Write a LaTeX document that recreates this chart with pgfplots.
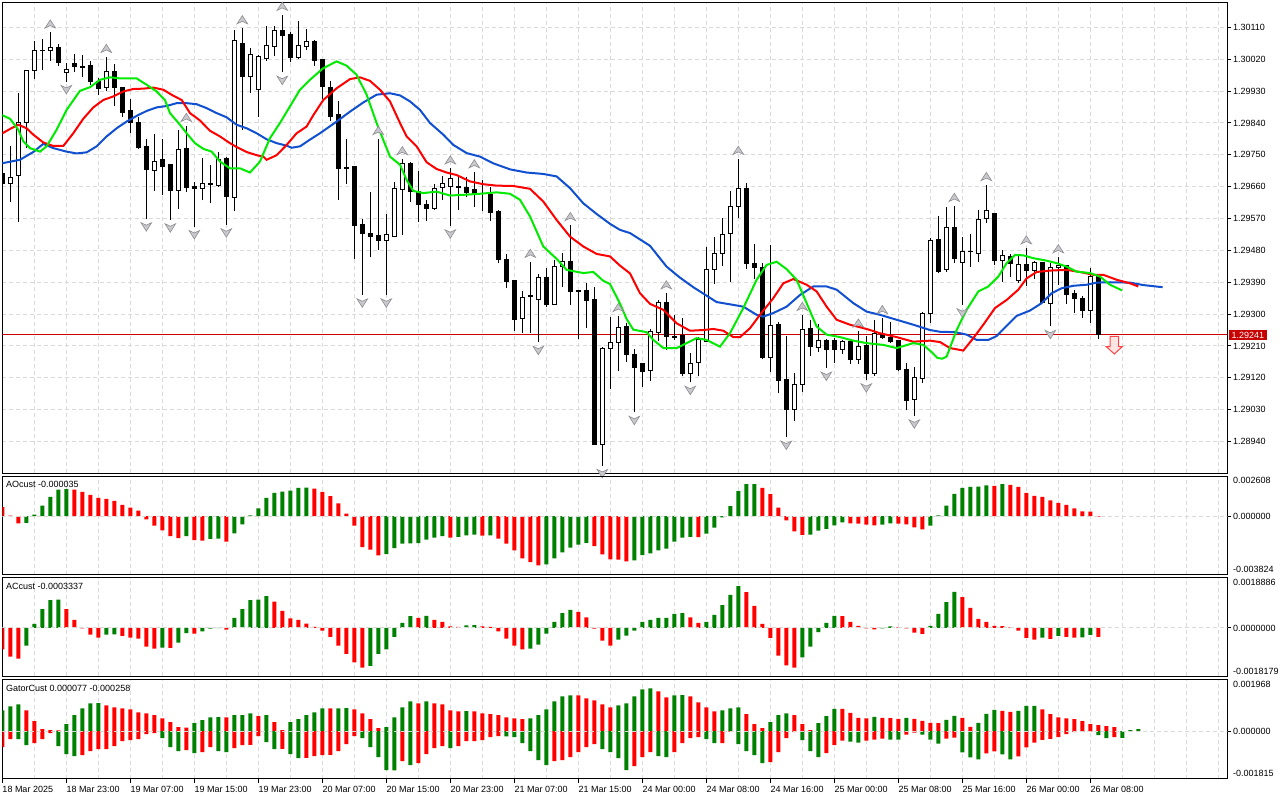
\documentclass[border=0pt]{standalone}
\usepackage{fontspec}
\setmainfont{Liberation Sans}
\usepackage{pgfplots}
\usepackage{pgfplotstable}
\pgfplotsset{compat=1.18}

\definecolor{jaw}{RGB}{16,80,208}
\definecolor{teeth}{RGB}{255,0,0}
\definecolor{lips}{RGB}{0,235,0}
\definecolor{hgreen}{RGB}{0,128,0}
\definecolor{hred}{RGB}{255,0,0}
\definecolor{gridc}{RGB}{218,218,218}
\definecolor{pricered}{RGB}{200,0,0}
\definecolor{fracfill}{RGB}{200,200,205}
\definecolor{fracdraw}{RGB}{140,140,145}
\definecolor{sellfill}{RGB}{255,228,228}
\definecolor{selldraw}{RGB}{255,70,70}

\newcommand\mtfont{\fontsize{9}{11}\selectfont}

\pgfdeclareplotmark{fup}{%
  \pgfpathmoveto{\pgfqpoint{0pt}{12.5pt}}%
  \pgfpathlineto{\pgfqpoint{5.3pt}{4.3pt}}%
  \pgfpathlineto{\pgfqpoint{0pt}{6.8pt}}%
  \pgfpathlineto{\pgfqpoint{-5.3pt}{4.3pt}}%
  \pgfpathclose\pgfusepathqfillstroke}
\pgfdeclareplotmark{fdown}{%
  \pgfpathmoveto{\pgfqpoint{0pt}{-12.3pt}}%
  \pgfpathlineto{\pgfqpoint{5.3pt}{-3.8pt}}%
  \pgfpathlineto{\pgfqpoint{0pt}{-6.3pt}}%
  \pgfpathlineto{\pgfqpoint{-5.3pt}{-3.8pt}}%
  \pgfpathclose\pgfusepathqfillstroke}
\pgfdeclareplotmark{sell}{%
  \pgfpathmoveto{\pgfqpoint{-4.2pt}{-1.5pt}}%
  \pgfpathlineto{\pgfqpoint{4.2pt}{-1.5pt}}%
  \pgfpathlineto{\pgfqpoint{4.2pt}{-11.7pt}}%
  \pgfpathlineto{\pgfqpoint{8pt}{-11.7pt}}%
  \pgfpathlineto{\pgfqpoint{0pt}{-19pt}}%
  \pgfpathlineto{\pgfqpoint{-8pt}{-11.7pt}}%
  \pgfpathlineto{\pgfqpoint{-4.2pt}{-11.7pt}}%
  \pgfpathclose\pgfusepathqfillstroke}

% k open high low close bullish fractalUp fractalDown
\pgfplotstableread{
k o h l c b fu fd
0 1.29696 1.29703 1.29665 1.29670 0 0 0
1 1.29670 1.29776 1.29618 1.29687 1 0 0
2 1.29692 1.29924 1.29559 1.29842 1 0 0
3 1.29842 1.29990 1.29769 1.29987 1 0 0
4 1.29987 1.30072 1.29965 1.30046 1 0 0
5 1.30046 1.30078 1.29990 1.30045 0 0 0
6 1.30046 1.30096 1.30016 1.30054 1 1 0
7 1.30054 1.30064 1.30000 1.30012 0 0 0
8 1.29984 1.30009 1.29957 1.29992 1 0 1
9 1.30009 1.30035 1.29983 1.30000 0 0 0
10 1.30001 1.30033 1.29971 1.29997 0 0 0
11 1.30002 1.30016 1.29948 1.29957 0 0 0
12 1.29957 1.29967 1.29918 1.29937 0 0 0
13 1.29940 1.30027 1.29929 1.29985 1 1 0
14 1.29985 1.30007 1.29887 1.29940 0 0 0
15 1.29940 1.29941 1.29856 1.29870 0 0 0
16 1.29874 1.29907 1.29811 1.29840 0 0 0
17 1.29840 1.29858 1.29767 1.29771 0 0 0
18 1.29773 1.29794 1.29569 1.29709 0 0 1
19 1.29707 1.29809 1.29649 1.29732 1 0 0
20 1.29736 1.29795 1.29637 1.29717 0 0 0
21 1.29722 1.29722 1.29566 1.29649 0 0 1
22 1.29649 1.29821 1.29598 1.29766 1 0 0
23 1.29767 1.29832 1.29644 1.29658 0 1 0
24 1.29661 1.29672 1.29547 1.29656 0 0 1
25 1.29656 1.29741 1.29621 1.29668 1 0 0
26 1.29666 1.29720 1.29613 1.29668 1 0 0
27 1.29664 1.29759 1.29660 1.29736 1 0 0
28 1.29739 1.29745 1.29552 1.29632 0 0 1
29 1.29630 1.30103 1.29590 1.30073 1 0 0
30 1.30064 1.30108 1.29821 1.29971 0 1 0
31 1.29971 1.30051 1.29926 1.30033 1 0 0
32 1.29936 1.30033 1.29858 1.30028 1 0 0
33 1.30023 1.30115 1.30016 1.30058 1 0 0
34 1.30057 1.30113 1.30028 1.30100 1 0 0
35 1.30100 1.30146 1.29983 1.30088 0 1 1
36 1.30089 1.30097 1.30011 1.30026 0 0 0
37 1.30026 1.30129 1.30022 1.30058 1 0 0
38 1.30057 1.30105 1.30045 1.30071 1 0 0
39 1.30071 1.30075 1.30002 1.30017 0 0 0
40 1.30018 1.30019 1.29907 1.29943 0 0 0
41 1.29941 1.29959 1.29847 1.29858 0 0 0
42 1.29863 1.29903 1.29623 1.29710 0 0 0
43 1.29714 1.29795 1.29668 1.29712 0 0 0
44 1.29717 1.29717 1.29457 1.29550 0 0 0
45 1.29552 1.29569 1.29354 1.29527 0 0 1
46 1.29529 1.29644 1.29460 1.29519 0 0 0
47 1.29521 1.29795 1.29480 1.29508 0 1 0
48 1.29508 1.29583 1.29354 1.29526 1 0 1
49 1.29519 1.29672 1.29517 1.29654 1 0 0
50 1.29653 1.29738 1.29524 1.29726 1 1 0
51 1.29726 1.29729 1.29618 1.29646 0 0 0
52 1.29646 1.29703 1.29559 1.29610 0 0 0
53 1.29611 1.29623 1.29562 1.29598 0 0 0
54 1.29597 1.29667 1.29595 1.29656 1 0 0
55 1.29658 1.29689 1.29623 1.29668 1 0 0
56 1.29660 1.29712 1.29549 1.29684 1 1 1
57 1.29659 1.29689 1.29593 1.29660 1 0 0
58 1.29659 1.29686 1.29630 1.29644 0 0 0
59 1.29651 1.29701 1.29604 1.29642 0 1 0
60 1.29642 1.29679 1.29590 1.29641 0 0 0
61 1.29637 1.29660 1.29564 1.29588 0 0 0
62 1.29590 1.29595 1.29444 1.29455 0 0 0
63 1.29455 1.29470 1.29373 1.29392 0 0 0
64 1.29394 1.29394 1.29253 1.29286 0 0 0
65 1.29288 1.29366 1.29246 1.29348 1 0 0
66 1.29351 1.29448 1.29248 1.29352 1 1 0
67 1.29342 1.29414 1.29220 1.29402 1 0 1
68 1.29402 1.29430 1.29320 1.29326 0 0 0
69 1.29327 1.29453 1.29325 1.29434 1 0 0
70 1.29434 1.29472 1.29376 1.29449 1 0 0
71 1.29450 1.29552 1.29326 1.29364 0 1 0
72 1.29366 1.29369 1.29229 1.29364 0 0 0
73 1.29366 1.29387 1.29260 1.29338 0 0 0
74 1.29340 1.29376 1.28930 1.28932 0 0 0
75 1.28932 1.29206 1.28872 1.29204 1 0 1
76 1.29204 1.29293 1.29088 1.29221 1 0 0
77 1.29221 1.29295 1.29138 1.29262 1 1 0
78 1.29264 1.29276 1.29166 1.29187 0 0 0
79 1.29185 1.29202 1.29022 1.29149 0 0 1
80 1.29161 1.29163 1.29095 1.29138 0 0 0
81 1.29140 1.29258 1.29112 1.29251 1 0 0
82 1.29249 1.29340 1.29225 1.29334 1 0 0
83 1.29334 1.29359 1.29199 1.29237 0 1 0
84 1.29237 1.29298 1.29227 1.29235 0 0 0
85 1.29240 1.29289 1.29124 1.29133 0 0 0
86 1.29133 1.29189 1.29107 1.29161 1 0 1
87 1.29164 1.29235 1.29124 1.29229 1 0 0
88 1.29222 1.29489 1.29220 1.29427 1 0 0
89 1.29427 1.29517 1.29385 1.29472 1 0 0
90 1.29472 1.29571 1.29437 1.29526 1 0 0
91 1.29529 1.29648 1.29392 1.29605 1 0 0
92 1.29605 1.29739 1.29572 1.29656 1 1 0
93 1.29656 1.29670 1.29427 1.29442 0 0 0
94 1.29442 1.29498 1.29399 1.29433 0 0 0
95 1.29433 1.29444 1.29172 1.29178 0 0 0
96 1.29178 1.29496 1.29135 1.29267 1 0 0
97 1.29270 1.29277 1.29076 1.29112 0 0 0
98 1.29114 1.29238 1.28952 1.29031 0 0 1
99 1.29031 1.29135 1.28999 1.29102 1 0 0
100 1.29102 1.29298 1.29081 1.29257 1 1 0
101 1.29258 1.29282 1.29182 1.29208 0 0 0
102 1.29206 1.29272 1.29194 1.29226 1 0 0
103 1.29226 1.29229 1.29147 1.29201 0 0 1
104 1.29226 1.29232 1.29163 1.29201 0 0 0
105 1.29201 1.29227 1.29188 1.29223 1 0 0
106 1.29222 1.29224 1.29159 1.29171 0 0 0
107 1.29171 1.29251 1.29159 1.29208 1 1 0
108 1.29210 1.29238 1.29114 1.29133 0 0 1
109 1.29133 1.29284 1.29124 1.29244 1 0 0
110 1.29242 1.29289 1.29231 1.29233 0 1 0
111 1.29235 1.29279 1.29218 1.29222 0 0 0
112 1.29225 1.29227 1.29138 1.29144 0 0 0
113 1.29144 1.29161 1.29028 1.29056 0 0 0
114 1.29058 1.29150 1.29012 1.29121 1 0 1
115 1.29119 1.29307 1.29105 1.29303 1 0 0
116 1.29303 1.29515 1.29276 1.29507 1 0 0
117 1.29510 1.29578 1.29415 1.29419 0 0 0
118 1.29427 1.29602 1.29419 1.29546 1 0 0
119 1.29546 1.29606 1.29444 1.29458 0 1 0
120 1.29447 1.29517 1.29326 1.29477 1 0 1
121 1.29477 1.29526 1.29434 1.29478 1 0 0
122 1.29472 1.29595 1.29448 1.29568 1 0 0
123 1.29571 1.29665 1.29557 1.29593 1 1 0
124 1.29585 1.29585 1.29439 1.29451 0 0 0
125 1.29451 1.29480 1.29392 1.29465 1 0 0
126 1.29464 1.29470 1.29406 1.29444 0 0 0
127 1.29395 1.29467 1.29389 1.29441 1 0 0
128 1.29441 1.29486 1.29378 1.29423 0 1 0
129 1.29423 1.29450 1.29399 1.29446 1 0 0
130 1.29447 1.29448 1.29331 1.29333 0 0 0
131 1.29331 1.29444 1.29265 1.29432 1 0 1
132 1.29432 1.29461 1.29383 1.29438 1 1 0
133 1.29438 1.29440 1.29328 1.29354 0 0 0
134 1.29357 1.29369 1.29304 1.29343 0 0 0
135 1.29345 1.29350 1.29288 1.29310 0 0 0
136 1.29310 1.29430 1.29276 1.29406 1 0 0
137 1.29408 1.29408 1.29229 1.29241 0 0 0
}\candles

\pgfplotstableread{
x y
-0.29 1.29725
2.21 1.29736
3.875 1.29758
5.125 1.29781
6.375 1.29769
8.04 1.29759
9.29 1.29754
10.54 1.29757
11.79 1.29774
13.04 1.29802
14.29 1.29825
15.54 1.29844
16.79 1.29860
18.04 1.29874
19.29 1.29884
20.54 1.29888
21.79 1.29896
23.04 1.29896
24.29 1.29893
25.54 1.29882
26.79 1.29868
28.04 1.29856
29.29 1.29835
30.54 1.29825
31.79 1.29811
33.04 1.29794
34.29 1.29783
35.54 1.29776
36.17 1.29770
37.21 1.29774
38.46 1.29793
39.71 1.29811
41.79 1.29844
43.46 1.29872
45.125 1.29898
46.79 1.29920
48.46 1.29924
49.71 1.29918
50.96 1.29901
52.21 1.29877
53.46 1.29840
55.125 1.29807
56.375 1.29778
58.04 1.29755
59.71 1.29745
61.375 1.29726
63.46 1.29709
65.54 1.29700
67.625 1.29696
69.29 1.29689
70.96 1.29656
72.625 1.29613
74.29 1.29583
75.96 1.29555
77.21 1.29538
78.46 1.29529
80.96 1.29493
83.04 1.29434
84.71 1.29403
86.375 1.29376
88.04 1.29352
89.29 1.29334
91.375 1.29326
92.625 1.29321
94.29 1.29298
95.125 1.29293
96.375 1.29303
98.04 1.29321
99.71 1.29354
101.375 1.29378
103.04 1.29378
104.29 1.29369
106.375 1.29331
108.04 1.29307
109.71 1.29298
111.79 1.29284
113.875 1.29270
115.96 1.29255
117.21 1.29250
119.08 1.29249
120.54 1.29242
121.79 1.29227
123.25 1.29227
124.29 1.29238
125.54 1.29267
126.79 1.29295
128.46 1.29310
129.92 1.29331
131.17 1.29359
132.42 1.29373
133.875 1.29380
135.54 1.29383
136.79 1.29389
138.46 1.29390
140.96 1.29389
142.625 1.29382
145.04 1.29376
}\jawtab

\pgfplotstableread{
x y
-0.29 1.29807
0.96 1.29823
2 1.29835
3.04 1.29825
3.875 1.29807
5.125 1.29785
6.375 1.29775
7.625 1.29775
8.875 1.29811
10.125 1.29852
11.375 1.29884
12.625 1.29905
13.875 1.29915
15.125 1.29929
16.375 1.29936
17.625 1.29937
18.875 1.29940
20.125 1.29934
21.375 1.29917
22.42 1.29905
23.46 1.29868
24.71 1.29847
25.96 1.29818
27.21 1.29802
28.46 1.29783
29.29 1.29772
30.54 1.29758
31.79 1.29749
32.625 1.29745
33.04 1.29736
34.29 1.29749
35.54 1.29778
36.79 1.29811
38.04 1.29830
38.875 1.29862
40.125 1.29905
41.79 1.29938
43.46 1.29964
44.71 1.29969
45.96 1.29959
47.21 1.29934
48.46 1.29901
49.71 1.29840
50.54 1.29802
51.79 1.29774
53.04 1.29729
54.29 1.29710
55.54 1.29700
56.79 1.29693
58.46 1.29675
60.125 1.29667
61.79 1.29663
63.875 1.29662
65.96 1.29654
67.625 1.29618
69.29 1.29566
70.96 1.29519
72.625 1.29491
74.29 1.29470
75.96 1.29463
77.21 1.29437
78.46 1.29415
79.71 1.29359
80.96 1.29329
82.625 1.29312
84.29 1.29274
85.96 1.29253
87.625 1.29255
88.875 1.29258
90.125 1.29253
91.375 1.29235
92.21 1.29235
93.46 1.29260
94.71 1.29298
96.375 1.29345
97.625 1.29387
98.875 1.29399
100.54 1.29383
101.79 1.29364
103.04 1.29321
104.29 1.29284
105.96 1.29270
108.04 1.29258
109.71 1.29246
111.79 1.29235
113.875 1.29222
115.96 1.29225
117.21 1.29221
118.46 1.29204
120.125 1.29197
121.375 1.29232
122.625 1.29270
124.08 1.29317
125.54 1.29340
127 1.29369
128.04 1.29401
129.29 1.29419
130.96 1.29423
133.04 1.29425
134.71 1.29419
136.375 1.29411
137.625 1.29411
139.29 1.29397
140.96 1.29387
142 1.29378
}\teethtab

\pgfplotstableread{
x y
-0.29 1.29865
0.96 1.29852
2 1.29821
2.63 1.29788
3.46 1.29769
4.71 1.29759
5.54 1.29774
6.79 1.29821
8.04 1.29877
9.71 1.29931
10.96 1.29941
12.21 1.29962
13.46 1.29969
14.71 1.29966
16.79 1.29966
18.04 1.29948
19.29 1.29929
20.33 1.29905
20.96 1.29868
22.21 1.29835
23.04 1.29811
24.08 1.29783
25.125 1.29767
26.17 1.29759
27.21 1.29731
28.46 1.29712
29.71 1.29712
30.96 1.29700
32.21 1.29731
33.46 1.29797
34.71 1.29840
35.96 1.29887
37.21 1.29934
38.46 1.29962
40.125 1.29995
41.79 1.30014
43.04 1.30002
44.29 1.29976
45.54 1.29920
46.79 1.29840
47.625 1.29792
48.46 1.29745
49.71 1.29722
50.54 1.29679
51.375 1.29648
52.625 1.29642
54.29 1.29646
55.96 1.29635
57.625 1.29637
59.71 1.29640
61.79 1.29644
63.46 1.29640
64.71 1.29623
65.96 1.29576
67.625 1.29491
69.29 1.29456
70.54 1.29425
72.625 1.29416
73.875 1.29419
75.125 1.29394
75.96 1.29385
77.21 1.29330
78.04 1.29286
78.875 1.29256
80.54 1.29249
81.375 1.29227
82.625 1.29204
84.29 1.29204
85.54 1.29218
86.79 1.29232
88.04 1.29227
89.71 1.29208
90.96 1.29246
92.625 1.29317
94.29 1.29397
95.54 1.29439
96.79 1.29448
98.04 1.29427
99.29 1.29397
100.54 1.29331
101.79 1.29265
103.04 1.29242
104.71 1.29235
106.375 1.29225
108.04 1.29218
110.125 1.29213
111.79 1.29204
113.875 1.29218
115.125 1.29213
116.2 1.29192
116.9 1.29176
117.5 1.29174
118.04 1.29180
119.29 1.29255
120.54 1.29312
122 1.29364
123.25 1.29378
124.5 1.29406
125.54 1.29444
126.58 1.29467
127.625 1.29466
128.875 1.29458
130.54 1.29451
131.79 1.29444
133.04 1.29434
134.29 1.29420
135.96 1.29416
137.21 1.29406
138.46 1.29383
139.96 1.29367
}\lipstab

% AO: k value colour(1=green,0=red)
\pgfplotstableread{
k v c
0 0.000583 0
1 0.00002 0
2 -0.000475 0
3 -0.000454 1
4 0.000086 1
5 0.00067 1
6 0.001253 1
7 0.001728 1
8 0.00175 1
9 0.00172 0
10 0.001577 0
11 0.001382 0
12 0.001188 0
13 0.001123 0
14 0.000994 0
15 0.000734 0
16 0.00054 0
17 0.000346 0
18 -0.000216 0
19 -0.000626 0
20 -0.000929 0
21 -0.001318 0
22 -0.001447 0
23 -0.001318 1
24 -0.001577 0
25 -0.001598 0
26 -0.00149 1
27 -0.001469 1
28 -0.001663 0
29 -0.001123 1
30 -0.00054 1
31 0.000043 1
32 0.000497 1
33 0.001188 1
34 0.001512 1
35 0.001598 1
36 0.001663 1
37 0.001836 1
38 0.001847 1
39 0.001793 0
40 0.001577 0
41 0.001296 0
42 0.000821 0
43 0.000151 0
44 -0.000626 0
45 -0.00203 0
46 -0.002182 0
47 -0.00257 0
48 -0.002484 1
49 -0.002095 1
50 -0.0018 1
51 -0.00178 1
52 -0.00176 1
53 -0.001534 1
54 -0.001404 1
55 -0.001318 1
56 -0.001404 0
57 -0.001361 1
58 -0.001253 1
59 -0.00121 1
60 -0.001274 0
61 -0.001263 1
62 -0.001469 0
63 -0.001793 0
64 -0.002246 0
65 -0.002765 0
66 -0.003002 0
67 -0.003218 0
68 -0.003154 1
69 -0.002765 1
70 -0.002376 1
71 -0.002052 1
72 -0.001858 1
73 -0.00175 1
74 -0.001966 0
75 -0.002506 0
76 -0.00283 0
77 -0.00284 0
78 -0.002959 0
79 -0.002894 1
80 -0.002549 1
81 -0.002441 1
82 -0.002246 1
83 -0.002117 1
84 -0.001663 1
85 -0.001404 1
86 -0.001361 1
87 -0.001382 0
88 -0.001145 1
89 -0.000756 1
90 -0.000086 1
91 0.000648 1
92 0.00162 1
93 0.002074 1
94 0.002084 1
95 0.001836 0
96 0.001426 0
97 0.00054 0
98 -0.000281 0
99 -0.000994 0
100 -0.001231 0
101 -0.00121 1
102 -0.00095 1
103 -0.000842 1
104 -0.000605 1
105 -0.00041 1
106 -0.000475 0
107 -0.000497 0
108 -0.000562 0
109 -0.000605 0
110 -0.000562 1
111 -0.000475 1
112 -0.000497 0
113 -0.00054 0
114 -0.000734 0
115 -0.000864 0
116 -0.000626 1
117 0.000043 1
118 0.00067 1
119 0.001447 1
120 0.001836 1
121 0.0019 1
122 0.00191 1
123 0.00199 1
124 0.00197 0
125 0.00208 1
126 0.00203 0
127 0.0019 0
128 0.001512 0
129 0.001318 0
130 0.001253 0
131 0.001015 0
132 0.000864 0
133 0.000734 0
134 0.000497 0
135 0.000302 0
136 0.000281 0
137 -0.000035 0
}\ao

\pgfplotstableread{
k v c
0 -0.00081 0
1 -0.001075 0
2 -0.00115 0
3 -0.00066 1
4 0.00015 1
5 0.000712 1
6 0.00105 1
7 0.00106 1
8 0.000712 0
9 0.0003 0
10 -0.00002 0
11 -0.00025 0
12 -0.00036 0
13 -0.00025 1
14 -0.00024 1
15 -0.0003 0
16 -0.00036 0
17 -0.0004 0
18 -0.0007 0
19 -0.000775 0
20 -0.00074 1
21 -0.00075 0
22 -0.00055 1
23 -0.00019 1
24 -0.00021 0
25 -0.000125 1
26 -0.00003 1
27 -0.00001 1
28 -0.00006 0
29 0.000375 1
30 0.00071 1
31 0.00105 1
32 0.00106 1
33 0.0012 1
34 0.00099 0
35 0.00064 0
36 0.00036 0
37 0.0003 0
38 0.00016 0
39 0.00004 0
40 -0.0001 0
41 -0.00034 0
42 -0.00066 0
43 -0.000975 0
44 -0.00129 0
45 -0.00149 0
46 -0.001425 1
47 -0.000975 1
48 -0.00081 1
49 -0.00034 1
50 0.00019 1
51 0.00044 1
52 0.000375 0
53 0.00045 1
54 0.0003 0
55 0.000225 0
56 0.0000625 0
57 0.0000375 0
58 0.0001 1
59 0.000106 1
60 0.0000625 0
61 0.0000375 0
62 -0.000125 0
63 -0.0004 0
64 -0.00066 0
65 -0.00081 0
66 -0.000775 1
67 -0.000625 1
68 -0.00021 1
69 0.000225 1
70 0.00056 1
71 0.000675 1
72 0.0006 0
73 0.0004 0
74 -0.000025 0
75 -0.000475 0
76 -0.00066 0
77 -0.00044 1
78 -0.00029 1
79 -0.0001 1
80 0.000225 1
81 0.0003 1
82 0.000375 1
83 0.00038 1
84 0.000525 1
85 0.00056 1
86 0.0004 0
87 0.00019 0
88 0.000225 1
89 0.00049 1
90 0.00086 1
91 0.00124 1
92 0.001575 1
93 0.00135 0
94 0.000825 0
95 0.00015 0
96 -0.000375 0
97 -0.00104 0
98 -0.00141 0
99 -0.00149 0
100 -0.00111 1
101 -0.0007 1
102 -0.00016 1
103 0.00019 1
104 0.00045 1
105 0.00044 0
106 0.000225 0
107 0.000075 0
108 -0.0000125 0
109 -0.00005 0
110 -0.0000125 1
111 0.0000625 1
112 0.000025 0
113 -0.0000125 0
114 -0.000175 0
115 -0.000225 0
116 0.000075 1
117 0.000525 1
118 0.000975 1
119 0.00136 1
120 0.00116 0
121 0.00075 0
122 0.00034 0
123 0.000225 0
124 0.000075 0
125 0.00007 0
126 0.000025 0
127 -0.0001 0
128 -0.000375 0
129 -0.00044 0
130 -0.00036 1
131 -0.00041 0
132 -0.0003 1
133 -0.00034 0
134 -0.00036 0
135 -0.00035 1
136 -0.00026 1
137 -0.000334 0
}\ac

% Gator: k upper uppercolour lower lowercolour
\pgfplotstableread{
k u uc l lc
0 0.0008 1 -0.00061 0
1 0.000953 1 -0.000305 0
2 0.001029 1 -0.000305 1
3 0.0008 0 -0.000533 1
4 0.000381 0 -0.000457 0
5 0.000076 0 -0.000305 0
6 0.000038 0 -0.000076 0
7 0.000036 0 -0.000572 1
8 0.000267 1 -0.000876 1
9 0.00061 1 -0.000953 1
10 0.000876 1 -0.000914 0
11 0.001067 1 -0.000762 0
12 0.001073 1 -0.000686 0
13 0.000991 0 -0.000684 0
14 0.000914 0 -0.000572 0
15 0.000876 0 -0.000381 0
16 0.000838 0 -0.000343 0
17 0.000724 0 -0.000305 0
18 0.000686 0 -0.000114 0
19 0.00061 0 -0.000076 0
20 0.000495 0 -0.000267 1
21 0.000343 0 -0.00061 1
22 0.000152 0 -0.000762 1
23 0.00014 0 -0.000724 0
24 0.000305 1 -0.000838 1
25 0.000419 1 -0.0008 0
26 0.000533 1 -0.00061 0
27 0.00054 1 -0.000762 1
28 0.000533 0 -0.0008 1
29 0.00061 1 -0.000648 0
30 0.000616 1 -0.000533 0
31 0.000686 1 -0.000527 0
32 0.000572 0 -0.000191 0
33 0.00061 1 -0.000419 1
34 0.000343 0 -0.000686 1
35 0.000038 0 -0.000679 0
36 0.000343 1 -0.000876 1
37 0.000457 1 -0.001029 1
38 0.00061 1 -0.001022 0
39 0.000724 1 -0.000953 0
40 0.000876 1 -0.000914 0
41 0.00087 0 -0.000908 0
42 0.000876 1 -0.000762 0
43 0.000883 1 -0.000495 0
44 0.000838 0 -0.000191 0
45 0.000686 0 -0.000267 1
46 0.000457 0 -0.00061 1
47 0.000114 0 -0.000991 1
48 0.000152 1 -0.001486 1
49 0.000533 1 -0.001492 1
50 0.000914 1 -0.001143 0
51 0.001143 1 -0.001295 1
52 0.001067 0 -0.001219 0
53 0.001143 1 -0.000876 0
54 0.001067 0 -0.000648 0
55 0.001029 0 -0.000572 0
56 0.0008 0 -0.000648 1
57 0.000762 0 -0.000572 0
58 0.000768 1 -0.000381 0
59 0.000762 0 -0.000375 0
60 0.000686 0 -0.000343 0
61 0.000648 0 -0.000229 0
62 0.00061 0 -0.000191 0
63 0.000533 0 -0.000197 1
64 0.000495 0 -0.000229 1
65 0.000457 0 -0.000457 1
66 0.000495 1 -0.000762 1
67 0.00061 1 -0.001105 1
68 0.000838 1 -0.001295 1
69 0.001143 1 -0.001143 0
70 0.001334 1 -0.001105 0
71 0.001372 1 -0.000991 0
72 0.001365 0 -0.0008 0
73 0.001257 0 -0.00061 0
74 0.001181 0 -0.000495 0
75 0.001029 0 -0.000686 1
76 0.000914 0 -0.0008 1
77 0.000991 1 -0.001029 1
78 0.001067 1 -0.001486 1
79 0.001334 1 -0.001334 0
80 0.0016 1 -0.000991 0
81 0.001638 1 -0.0008 0
82 0.001524 0 -0.000953 1
83 0.001295 0 -0.000991 1
84 0.001372 1 -0.0008 0
85 0.001378 1 -0.000457 0
86 0.001334 0 -0.000267 0
87 0.001105 0 -0.000229 0
88 0.000914 0 -0.000305 1
89 0.000762 0 -0.000457 1
90 0.0008 1 -0.000451 0
91 0.000876 1 -0.000013 0
92 0.000914 1 -0.000495 1
93 0.000648 0 -0.000762 1
94 0.000267 0 -0.000914 1
95 0.000114 0 -0.001219 1
96 0.000343 1 -0.001181 0
97 0.00061 1 -0.0008 0
98 0.000686 1 -0.000267 0
99 0.00061 0 -0.000038 0
100 0.000267 0 -0.000343 1
101 0.000038 0 -0.000762 1
102 0.000305 1 -0.000991 1
103 0.000572 1 -0.000838 0
104 0.000857 1 -0.000533 0
105 0.000851 0 -0.000356 0
106 0.000699 0 -0.000394 1
107 0.000508 0 -0.000432 1
108 0.000495 0 -0.000356 0
109 0.000546 1 -0.000318 0
110 0.000508 0 -0.000279 0
111 0.000502 0 -0.000318 1
112 0.00047 0 -0.000324 1
113 0.000508 1 -0.000127 0
114 0.00047 0 -0.000051 0
115 0.000394 0 -0.000127 1
116 0.000318 0 -0.000318 1
117 0.000311 0 -0.00047 1
118 0.000432 1 -0.000279 0
119 0.000584 1 -0.000241 0
120 0.000508 0 -0.000813 1
121 0.000165 0 -0.001003 1
122 0.000318 1 -0.00108 1
123 0.00066 1 -0.000851 0
124 0.000813 1 -0.000775 0
125 0.000775 0 -0.000889 1
126 0.000737 0 -0.00108 1
127 0.000775 1 -0.000965 0
128 0.000965 1 -0.000622 0
129 0.000972 1 -0.000432 0
130 0.000838 0 -0.00033 0
131 0.000648 0 -0.000292 0
132 0.000533 0 -0.000229 0
133 0.000495 0 -0.000114 0
134 0.000457 0 -0.000038 0
135 0.000381 0 -0.000025 0
136 0.000267 0 -0.000006 0
137 0.000229 0 -0.000152 1
138 0.000191 0 -0.000267 1
139 0.000152 0 -0.000229 0
140 0 0 -0.000258 1
141 0.000038 1 0 0
142 0.000077 1 0 0
}\gator

\pgfplotsset{
  mtbase/.style={
    scale only axis,
    width=1225pt,
    xmin=0, xmax=153.125,
    scaled ticks=false,
    axis line style={line width=1pt,black},
    tick align=outside,
    major tick length=4pt,
    minor tick length=0pt,
    tick style={black,line width=1pt},
    xtick={0,8,16,24,32,40,48,56,64,72,80,88,96,104,112,120,128,136},
    minor xtick={4,12,20,28,36,44,52,60,68,76,84,92,100,108,116,124,132,140,144,148,152},
    xmajorgrids=true, xminorgrids=true,
    major grid style={gridc,line width=1pt,dash pattern=on 4pt off 3pt},
    minor grid style={gridc,line width=1pt,dash pattern=on 4pt off 3pt},
    xtick pos=left,
    ytick pos=right,
    yticklabel pos=right,
    ticklabel style={font=\mtfont},
    yticklabel style={anchor=west,inner sep=0pt,xshift=1.5pt},
    clip=true,
    clip mode=individual,
  },
  mtupper/.style={xticklabels={}, xtick style={draw=none}},
  histo/.style={ybar, bar width=4pt, bar shift=0pt, draw=none, forget plot},
  zeroline/.style={gridc,line width=1pt,dash pattern=on 4pt off 3pt, forget plot},
}

\begin{document}
\begin{tikzpicture}
\fill[white] (0pt,0pt) rectangle (1280pt,-800pt);

% ---------------- main price panel ----------------
\begin{axis}[mtbase, mtupper,
  at={(2.3pt,-473pt)}, anchor=south west, height=470.7pt,
  ymin=1.28851, ymax=1.30181,
  ytick={1.2894,1.2903,1.2912,1.2921,1.2930,1.2939,1.2948,1.2957,1.2966,1.2975,1.2984,1.2993,1.3002,1.3011},
  yticklabels={1.28940,1.29030,1.29120,1.29210,1.29300,1.29390,1.29480,1.29570,1.29660,1.29750,1.29840,1.29930,1.30020,1.30110},
  ymajorgrids=true,
  extra y ticks={1.29241}, extra y tick labels={1.29241},
  extra y tick style={grid=none, major tick length=0pt,
     yticklabel style={fill=pricered,text=white,inner xsep=3pt,inner ysep=2pt,xshift=-0.5pt}},
]
\addplot[pricered, line width=1pt, forget plot] coordinates {(0,1.29241) (154,1.29241)};
% wicks
\addplot[draw=none, mark=none, forget plot,
  error bars/.cd, y dir=plus, y explicit, error mark=none,
  error bar style={draw=black,line width=1pt,solid}]
  table[x=k, y=l, y error expr=\thisrow{h}-\thisrow{l}] {\candles};
% bodies
\pgfplotstablegetrowsof{\candles}
\pgfmathtruncatemacro{\nrows}{\pgfplotsretval-1}
\pgfplotsforeachungrouped \i in {0,...,\nrows}{%
  \pgfplotstablegetelem{\i}{k}\of\candles
  \pgfmathsetmacro{\xa}{\pgfplotsretval-0.25}%
  \pgfmathsetmacro{\xb}{\pgfplotsretval+0.25}%
  \pgfplotstablegetelem{\i}{o}\of\candles \let\vo\pgfplotsretval
  \pgfplotstablegetelem{\i}{c}\of\candles \let\vc\pgfplotsretval
  \pgfplotstablegetelem{\i}{b}\of\candles
  \ifnum\pgfplotsretval=1 \def\bodyfill{white}\else\def\bodyfill{black}\fi
  \edef\temp{\noexpand\addplot[draw=black, line width=1pt, fill=\bodyfill, forget plot]
     coordinates {(\xa,\vo) (\xb,\vo) (\xb,\vc) (\xa,\vc) (\xa,\vo)};}%
  \temp
}
% alligator
\addplot[jaw, line width=2pt, forget plot] table[x=x,y=y] {\jawtab};
\addplot[teeth, line width=2pt, forget plot] table[x=x,y=y] {\teethtab};
\addplot[lips, line width=2pt, forget plot] table[x=x,y=y] {\lipstab};
% fractals
\addplot[only marks, mark=fup, mark options={fill=fracfill,draw=fracdraw,line width=0.6pt}, forget plot,
  restrict expr to domain={\thisrow{fu}}{1:1}] table[x=k,y=h] {\candles};
\addplot[only marks, mark=fdown, mark options={fill=fracfill,draw=fracdraw,line width=0.6pt}, forget plot,
  restrict expr to domain={\thisrow{fd}}{1:1}] table[x=k,y=l] {\candles};
% sell signal arrow
\addplot[only marks, mark=sell, mark options={fill=sellfill,draw=selldraw,line width=1pt}, forget plot]
  coordinates {(139,1.29241)};
\end{axis}

% ---------------- AO panel ----------------
\begin{axis}[mtbase, mtupper,
  at={(2.3pt,-574.7pt)}, anchor=south west, height=98.7pt,
  ymin=-0.003824, ymax=0.002608, ytick={0}, yticklabels={0.000000}]
\addplot[histo, fill=hgreen, restrict expr to domain={\thisrow{c}}{1:1}] table[x=k,y=v] {\ao};
\addplot[histo, fill=hred, restrict expr to domain={\thisrow{c}}{0:0}] table[x=k,y=v] {\ao};
\addplot[zeroline] coordinates {(0,0) (154,0)};
\node[anchor=north west, inner sep=0pt, font=\mtfont, xshift=3.7pt, yshift=-5pt] at (rel axis cs:0,1) {AOcust -0.000035};
\node[anchor=west, inner sep=0pt, font=\mtfont, xshift=5.5pt, yshift=-4.3pt] at (rel axis cs:1,1) {0.002608};
\node[anchor=west, inner sep=0pt, font=\mtfont, xshift=5.5pt, yshift=5pt] at (rel axis cs:1,0) {-0.003824};
\end{axis}

% ---------------- AC panel ----------------
\begin{axis}[mtbase, mtupper,
  at={(2.3pt,-676.3pt)}, anchor=south west, height=98.6pt,
  ymin=-0.0018179, ymax=0.0018886, ytick={0}, yticklabels={0.0000000}]
\addplot[histo, fill=hgreen, restrict expr to domain={\thisrow{c}}{1:1}] table[x=k,y=v] {\ac};
\addplot[histo, fill=hred, restrict expr to domain={\thisrow{c}}{0:0}] table[x=k,y=v] {\ac};
\addplot[zeroline] coordinates {(0,0) (154,0)};
\node[anchor=north west, inner sep=0pt, font=\mtfont, xshift=3.7pt, yshift=-5pt] at (rel axis cs:0,1) {ACcust -0.0003337};
\node[anchor=west, inner sep=0pt, font=\mtfont, xshift=5.5pt, yshift=-4.6pt] at (rel axis cs:1,1) {0.0018886};
\node[anchor=west, inner sep=0pt, font=\mtfont, xshift=5.5pt, yshift=4.6pt] at (rel axis cs:1,0) {-0.0018179};
\end{axis}

% ---------------- Gator panel ----------------
\begin{axis}[mtbase,
  at={(2.3pt,-778.7pt)}, anchor=south west, height=99pt,
  ymin=-0.001815, ymax=0.001968, ytick={0}, yticklabels={0.000000},
  xticklabels={18 Mar 2025,18 Mar 23:00,19 Mar 07:00,19 Mar 15:00,19 Mar 23:00,20 Mar 07:00,20 Mar 15:00,20 Mar 23:00,21 Mar 07:00,21 Mar 15:00,24 Mar 00:00,24 Mar 08:00,24 Mar 16:00,25 Mar 00:00,25 Mar 08:00,25 Mar 16:00,26 Mar 00:00,26 Mar 08:00},
  xticklabel style={anchor=north west, inner sep=0pt, xshift=0pt, yshift=-3pt}]
\addplot[histo, fill=hgreen, restrict expr to domain={\thisrow{uc}}{1:1}] table[x=k,y=u] {\gator};
\addplot[histo, fill=hred, restrict expr to domain={\thisrow{uc}}{0:0}] table[x=k,y=u] {\gator};
\addplot[histo, fill=hgreen, restrict expr to domain={\thisrow{lc}}{1:1}] table[x=k,y=l] {\gator};
\addplot[histo, fill=hred, restrict expr to domain={\thisrow{lc}}{0:0}] table[x=k,y=l] {\gator};
\addplot[zeroline] coordinates {(0,0) (154,0)};
\node[anchor=north west, inner sep=0pt, font=\mtfont, xshift=3.7pt, yshift=-5.5pt] at (rel axis cs:0,1) {GatorCust 0.000077 -0.000258};
\node[anchor=west, inner sep=0pt, font=\mtfont, xshift=5.5pt, yshift=-4.6pt] at (rel axis cs:1,1) {0.001968};
\node[anchor=west, inner sep=0pt, font=\mtfont, xshift=5.5pt, yshift=5.3pt] at (rel axis cs:1,0) {-0.001815};
\end{axis}

\pgfresetboundingbox
\path[use as bounding box] (0pt,0pt) rectangle (1280pt,-800pt);
\end{tikzpicture}
\end{document}
